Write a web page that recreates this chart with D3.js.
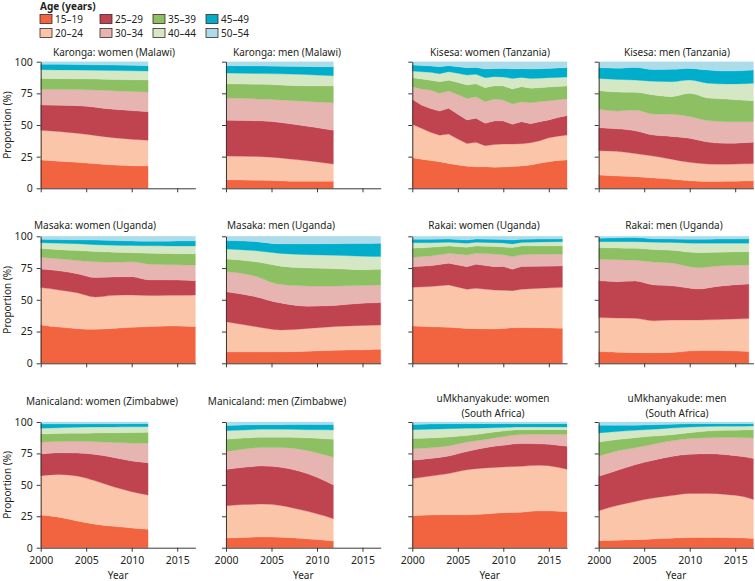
<!DOCTYPE html>
<html><head><meta charset="utf-8">
<script src="https://cdn.jsdelivr.net/npm/d3@7"></script>
<style>body{margin:0;background:#fff} svg text{font-family:"Noto Sans",sans-serif;fill:#231f20}</style>
</head><body><svg id="c" width="755" height="581"></svg>
<script>
const ageGroups = ["15–19","20–24","25–29","30–34","35–39","40–44","45–49","50–54"];
const ageColors = ["#f26440","#fbc5aa","#c0444f","#e6b5b1","#8dc063","#d5e8c5","#00aecb","#acdce9"];
const xTicks = [2000, 2005, 2010, 2015];
const yTicks = [0, 25, 50, 75, 100];

// Each panel: one row per age group (15–19 … 50–54), proportions (%) per year
const karongaWomenYears = [2000, 2004, 2008, 2011.8];
const karongaWomen = [
  [22.4, 20.5, 18.4, 17.6],
  [23.4, 23.0, 21.6, 20.3],
  [20.0, 21.8, 22.4, 22.6],
  [12.4, 12.7, 14.6, 15.5],
  [8.6, 8.5, 9.0, 9.5],
  [6.9, 6.9, 7.0, 7.1],
  [4.2, 4.3, 4.3, 4.2],
  [2.1, 2.3, 2.7, 3.2]];
const karongaMenYears = [2000, 2004, 2008, 2011.8];
const karongaMen = [
  [6.8, 6.3, 5.5, 5.5],
  [18.7, 18.7, 17.0, 13.7],
  [28.2, 28.2, 27.5, 26.6],
  [17.6, 17.4, 19.0, 21.8],
  [11.1, 11.5, 12.0, 13.2],
  [8.6, 8.5, 9.0, 8.1],
  [5.8, 6.0, 6.2, 7.1],
  [3.2, 3.4, 3.8, 4.0]];
const kisesaWomenYears = [2000,2001,2002,2003,2004,2005,2006,2007,2008,2009,2010,2011,2012,2013,2014,2015,2016,2017];
const kisesaWomen = [
  [24.2, 23, 22, 21, 19.5, 18.5, 17.5, 17, 17, 16.6, 16.8, 17.2, 17.6, 18.5, 19.8, 21, 22, 22.4],
  [26.3, 24.5, 22.2, 21, 23.3, 20.5, 17.8, 19.3, 16.7, 17.9, 18.2, 17.8, 17.6, 17.5, 17.7, 19, 19.2, 19.7],
  [19.8, 18.3, 18.8, 19, 20.4, 19.5, 18.7, 19, 17.6, 18.7, 18.2, 15.5, 17.4, 15, 15, 14, 14.8, 15.3],
  [10, 12.7, 14.6, 14, 13.6, 15.5, 17, 17.1, 17.1, 17.3, 16.5, 16.1, 15.8, 16.6, 16, 15.2, 14, 13.1],
  [7.1, 7.8, 7.7, 9.2, 8.5, 9.5, 10.6, 10.2, 11.1, 10.5, 11.1, 11.8, 11.9, 11.4, 11, 10.8, 10.5, 10.3],
  [5.2, 5.7, 6.3, 6.3, 6.8, 7.3, 7.9, 7.4, 7.9, 7.2, 7.1, 8.4, 7.3, 7.8, 7.5, 7.4, 7.1, 7.1],
  [4.8, 5, 5, 5.6, 4.7, 5.2, 5.8, 5.5, 6.8, 6.3, 6.8, 7.5, 6.9, 7.4, 7.4, 7.3, 7.4, 7.4],
  [2.6, 3, 3.4, 3.9, 3.2, 4, 4.7, 4.5, 5.8, 5.5, 5.3, 5.7, 5.5, 5.8, 5.6, 5.3, 5, 4.7]];
const kisesaMenYears = [2000, 2002, 2004, 2006, 2008, 2010, 2012, 2014, 2016, 2017];
const kisesaMen = [
  [10.5, 9.8, 9.2, 8.2, 7.2, 6, 5.3, 5.5, 5.8, 5.8],
  [19.2, 19.4, 18.3, 17.3, 15.8, 14.5, 13.9, 13.5, 13.5, 13.7],
  [18.2, 17.8, 18, 16.6, 18, 19, 17.3, 16.5, 16.7, 16.8],
  [14.7, 14, 16.3, 16.6, 17.5, 17.3, 17, 17.1, 16.6, 16.3],
  [14.5, 15, 14, 15, 13.9, 18.2, 17.8, 17.9, 16.9, 16.6],
  [9.7, 10, 9.7, 10.8, 11.8, 10.5, 11.7, 11.9, 13.1, 13.7],
  [8.5, 8.9, 10, 9.3, 9.8, 9.2, 10.4, 10.2, 10.4, 10.5],
  [4.7, 5.1, 4.5, 6.2, 6, 5.3, 6.6, 7.4, 7, 6.6]];
const masakaWomenYears = [2000, 2002, 2004, 2006, 2008, 2010, 2012, 2014, 2016, 2017];
const masakaWomen = [
  [30.2, 28.5, 27.3, 26.8, 27.5, 28.3, 29, 29.4, 29.2, 28.9],
  [29.4, 29.3, 28.2, 25.4, 26, 25.5, 24.3, 24.1, 24.4, 24.9],
  [14.7, 15, 15, 15.3, 14.5, 14.4, 12.3, 12.1, 11.7, 11.2],
  [9.2, 9.5, 10.5, 12.5, 11.6, 11.8, 12.4, 12, 12.2, 12.4],
  [6.8, 7.2, 7.8, 8, 7.9, 7.1, 8.6, 8.8, 8.7, 8.7],
  [4.7, 5.1, 5.4, 5.4, 5.5, 5.6, 5.9, 6, 6.2, 6.3],
  [2.6, 2.8, 3, 3.6, 3.6, 3.6, 3.6, 3.8, 3.9, 3.9],
  [2.4, 2.6, 2.8, 3, 3.4, 3.7, 3.9, 3.8, 3.7, 3.7]];
const masakaMenYears = [2000, 2003, 2006, 2009, 2012, 2015, 2017];
const masakaMen = [
  [8.9, 8.9, 9, 9.5, 10.2, 10.6, 11],
  [23.9, 20.3, 17.3, 18, 18.8, 19.2, 19.2],
  [23.6, 23.6, 21.2, 17.5, 16.6, 17.5, 17.6],
  [15.8, 16.2, 14.5, 15.9, 15.3, 13.9, 13.9],
  [10, 11.2, 14.5, 14.1, 13.6, 12.5, 12.3],
  [7.8, 8.6, 10, 10.5, 10.5, 10.6, 10],
  [6.6, 7.2, 7.5, 8.5, 9.2, 10, 10.5],
  [3.4, 4, 6, 6, 5.8, 5.7, 5.5]];
const rakaiWomenYears = [2000, 2002, 2004, 2006, 2007, 2009, 2010, 2011, 2012, 2014, 2016.5];
const rakaiWomen = [
  [29.4, 28.8, 28.3, 27.5, 27.3, 27, 27.5, 28, 28.1, 28, 27.6],
  [30.4, 31.7, 33.4, 30.8, 31.8, 30.7, 30, 29.2, 30.2, 31, 32.2],
  [16.3, 16.3, 17, 17.8, 18.8, 18.4, 18.8, 16.8, 18, 17.5, 16.8],
  [7.4, 7.7, 7.9, 9.2, 8.7, 10, 9.2, 10, 9.2, 9.5, 9.5],
  [7.1, 6.8, 5.8, 6, 5.8, 5.8, 6.1, 7.1, 6.9, 6.4, 6.3],
  [4.4, 3.7, 2.9, 3.2, 2.9, 3.1, 3.2, 2.9, 2.8, 3.1, 3.4],
  [2.6, 2.6, 2.5, 2.6, 2.5, 2.6, 2.6, 3.1, 2.4, 2.3, 2.1],
  [2.4, 2.4, 2.2, 2.9, 2.2, 2.4, 2.6, 2.9, 2.4, 2.2, 2.1]];
const rakaiMenYears = [2000, 2002, 2004, 2006, 2008, 2011, 2013, 2016.5];
const rakaiMen = [
  [9.2, 8.7, 8.4, 8.3, 8.5, 10, 10, 9.2],
  [26.8, 26.9, 27, 25.2, 25.5, 24.1, 24.4, 26],
  [29.1, 28.7, 29.4, 28.3, 27, 24.4, 26.1, 27.3],
  [16.8, 17.3, 16.4, 18, 18, 16.8, 16.1, 14.9],
  [9.2, 9.2, 9.3, 9.8, 10, 11.8, 10.9, 10.5],
  [4.7, 5, 5.3, 5.8, 6.2, 7.4, 7, 6.6],
  [2.6, 3, 3.2, 2.6, 2.7, 3.1, 3.3, 3.4],
  [1.6, 1.2, 1, 2, 2.1, 2.4, 2.2, 2.1]];
const manicalandWomenYears = [2000, 2002, 2004, 2006, 2008, 2010, 2011.8];
const manicalandWomen = [
  [26, 24.3, 21.3, 18.7, 17, 15.7, 14.6],
  [31.3, 34, 35.7, 34.5, 31.5, 28.9, 27.3],
  [17.2, 17.2, 18.3, 21, 23.3, 24.4, 25.7],
  [9.6, 8.9, 9.3, 10.1, 11.9, 14.2, 15.4],
  [6.4, 6.4, 6.4, 6.9, 7.7, 8.4, 8.8],
  [4.5, 4.6, 4.8, 4.8, 4.7, 4.6, 4.5],
  [3.4, 3.1, 2.7, 2.6, 2.5, 2.5, 2.4],
  [1.6, 1.5, 1.5, 1.4, 1.4, 1.3, 1.3]];
const manicalandMenYears = [2000, 2002, 2004, 2006, 2008, 2010, 2011.8];
const manicalandMen = [
  [7.7, 8.2, 8.5, 8.4, 7.6, 6.5, 5.3],
  [25.7, 26.1, 26.2, 25.2, 22.9, 20.5, 17.8],
  [28.9, 29.7, 30.3, 30.4, 30.5, 29, 26.8],
  [14.1, 14.5, 14.8, 15.8, 17.5, 19.5, 22],
  [9.8, 8.7, 8, 8, 9.1, 11.5, 14.3],
  [6.9, 6.4, 6.4, 6.4, 6.4, 6.8, 7.4],
  [4.2, 4, 3.7, 3.7, 4, 4.2, 4.5],
  [2.7, 2.4, 2.1, 2.1, 2, 2, 1.9]];
const umkhanyakudeWomenYears = [2000, 2002, 2004, 2006, 2008, 2010, 2012, 2014, 2016, 2017];
const umkhanyakudeWomen = [
  [25.4, 26, 26.3, 26.2, 26.8, 27.8, 28.2, 29.3, 29, 28.6],
  [29.6, 31, 32.7, 35.8, 36.7, 36.5, 36.6, 36.2, 35, 33.8],
  [14.6, 14, 14, 14.5, 16, 17.2, 18, 17.1, 17.5, 18.3],
  [9.2, 8.5, 8, 7.5, 6.5, 7, 7.2, 7.6, 8.7, 9.5],
  [8, 7.7, 7, 5.2, 5, 4.4, 3.8, 3.7, 3.7, 3.7],
  [7.1, 7.1, 6.7, 5.8, 4.3, 2.7, 2.2, 2.1, 2.1, 2.1],
  [4.2, 4.1, 3.9, 3.7, 3.4, 3.1, 2.7, 2.7, 2.7, 2.7],
  [1.9, 1.6, 1.4, 1.3, 1.3, 1.3, 1.3, 1.3, 1.3, 1.3]];
const umkhanyakudeMenYears = [2000, 2002, 2004, 2006, 2008, 2010, 2012, 2014, 2016, 2017];
const umkhanyakudeMen = [
  [5.6, 6, 6.4, 7, 7.6, 8.1, 8.2, 8.1, 7.7, 7.4],
  [23.8, 27.5, 30.4, 32.5, 33.9, 35, 34.9, 34.3, 32.8, 31],
  [27.5, 28, 29.2, 30, 31.1, 31.2, 31.7, 31.6, 31.8, 32.5],
  [15.9, 15.5, 13.5, 12.8, 12.4, 12.5, 12.6, 13.6, 15.1, 16.4],
  [11.3, 9, 8, 6.5, 4.8, 4.7, 5.4, 5.8, 6.3, 6.6],
  [7.2, 6.4, 5.9, 5.4, 5.4, 4.5, 3.6, 3.2, 3, 2.9],
  [6.1, 5.1, 4.1, 3.6, 3, 2.7, 2.3, 2.1, 2, 1.9],
  [2.6, 2.5, 2.5, 2.2, 1.8, 1.3, 1.3, 1.3, 1.3, 1.3]];

const smooth = d3.curveMonotoneX, jag = d3.curveLinear;
const panels = [
  {title:["Karonga: women (Malawi)"], tx:114, years:karongaWomenYears, values:karongaWomen, col:0, row:0, curve:smooth},
  {title:["Karonga: men (Malawi)"], tx:287, years:karongaMenYears, values:karongaMen, col:1, row:0, curve:smooth},
  {title:["Kisesa: women (Tanzania)"], tx:490, years:kisesaWomenYears, values:kisesaWomen, col:2, row:0, curve:jag},
  {title:["Kisesa: men (Tanzania)"], tx:677, years:kisesaMenYears, values:kisesaMen, col:3, row:0, curve:smooth},
  {title:["Masaka: women (Uganda)"], tx:95, years:masakaWomenYears, values:masakaWomen, col:0, row:1, curve:smooth},
  {title:["Masaka: men (Uganda)"], tx:281, years:masakaMenYears, values:masakaMen, col:1, row:1, curve:smooth},
  {title:["Rakai: women (Uganda)"], tx:484, years:rakaiWomenYears, values:rakaiWomen, col:2, row:1, curve:jag},
  {title:["Rakai: men (Uganda)"], tx:674, years:rakaiMenYears, values:rakaiMen, col:3, row:1, curve:smooth},
  {title:["Manicaland: women (Zimbabwe)"], tx:102, years:manicalandWomenYears, values:manicalandWomen, col:0, row:2, curve:smooth},
  {title:["Manicaland: men (Zimbabwe)"], tx:277, years:manicalandMenYears, values:manicalandMen, col:1, row:2, curve:smooth},
  {title:["uMkhanyakude: women","(South Africa)"], tx:493, years:umkhanyakudeWomenYears, values:umkhanyakudeWomen, col:2, row:2, curve:smooth},
  {title:["uMkhanyakude: men","(South Africa)"], tx:677, years:umkhanyakudeMenYears, values:umkhanyakudeMen, col:3, row:2, curve:smooth}
];

const svg = d3.select("#c");
const colX = [40.7, 226, 412.3, 598.7];
const plotW = 154.7;
const rowY = [[61.7, 188.3], [236.3, 363.3], [422, 547.7]];
const titleY = [56, 229, 405];
const axisColor = "#3a3a3a";
const fs = 10;

panels.forEach(p => {
  const x = d3.scaleLinear().domain([2000, 2017]).range([colX[p.col], colX[p.col] + plotW]);
  const y = d3.scaleLinear().domain([0, 100]).range([rowY[p.row][1], rowY[p.row][0]]);
  const rows = p.years.map((yr, i) => {
    const r = {year: yr};
    ageGroups.forEach((g, k) => r[g] = p.values[k][i]);
    return r;
  });
  const series = d3.stack().keys(ageGroups)(rows);
  const area = d3.area().curve(p.curve)
    .x(d => x(d.data.year)).y0(d => y(d[0])).y1(d => y(Math.min(100, d[1])));
  const g = svg.append("g");
  g.selectAll("path.band").data(series).join("path")
    .attr("class", "band")
    .attr("fill", (d, i) => ageColors[i])
    .attr("stroke", (d, i) => ageColors[i]).attr("stroke-width", 0.3)
    .attr("d", area);

  const xAx = d3.axisBottom(x).tickValues(xTicks).tickSize(4).tickSizeOuter(0)
    .tickFormat(p.row === 2 ? d3.format("d") : "");
  const gx = g.append("g").attr("transform", `translate(0,${rowY[p.row][1]})`).call(xAx);
  const yAx = d3.axisLeft(y).tickValues(yTicks).tickSize(4).tickSizeOuter(0)
    .tickFormat(p.col === 0 ? d3.format("d") : "");
  const gy = g.append("g").attr("transform", `translate(${colX[p.col]},0)`).call(yAx);
  [gx, gy].forEach(a => {
    a.select(".domain").attr("stroke", axisColor).attr("stroke-width", 1);
    a.selectAll(".tick line").attr("stroke", axisColor);
    a.selectAll(".tick text").attr("font-size", fs + 0.5).attr("fill", "#231f20")
      .style("font-family", '"Noto Sans", sans-serif');
  });
  gx.selectAll(".tick text").attr("dy", "0.9em");
  gy.selectAll(".tick text").attr("dx", "-0.1em");

  p.title.forEach((t, i) => {
    const ty = p.title.length === 2 ? 398 + i * 15 + 3.5 : titleY[p.row];
    g.append("text").attr("x", p.tx).attr("y", ty).attr("text-anchor", "middle")
      .attr("font-size", fs).text(t);
  });
  if (p.row === 2) {
    g.append("text").attr("x", colX[p.col] + plotW / 2).attr("y", 579).attr("text-anchor", "middle")
      .attr("font-size", fs).text("Year");
  }
  if (p.col === 0) {
    const cy = (rowY[p.row][0] + rowY[p.row][1]) / 2;
    g.append("text").attr("transform", `translate(11,${cy}) rotate(-90)`)
      .attr("text-anchor", "middle").attr("font-size", fs).text("Proportion (%)");
  }
});

// legend
const leg = svg.append("g");
leg.append("text").attr("x", 40).attr("y", 10).attr("font-size", fs).attr("font-weight", "bold").text("Age (years)");
const legX = [40, 100, 153, 206];
ageGroups.forEach((a, i) => {
  const cx = legX[Math.floor(i / 2)], cy = i % 2 === 0 ? 19 : 33;
  leg.append("rect").attr("x", cx).attr("y", cy - 4.5).attr("width", 12).attr("height", 9)
    .attr("fill", ageColors[i]).attr("stroke", "#3a2a2a").attr("stroke-width", 0.8);
  leg.append("text").attr("x", cx + 15).attr("y", cy + 3.8).attr("font-size", fs).text(a);
});
</script></body></html>
